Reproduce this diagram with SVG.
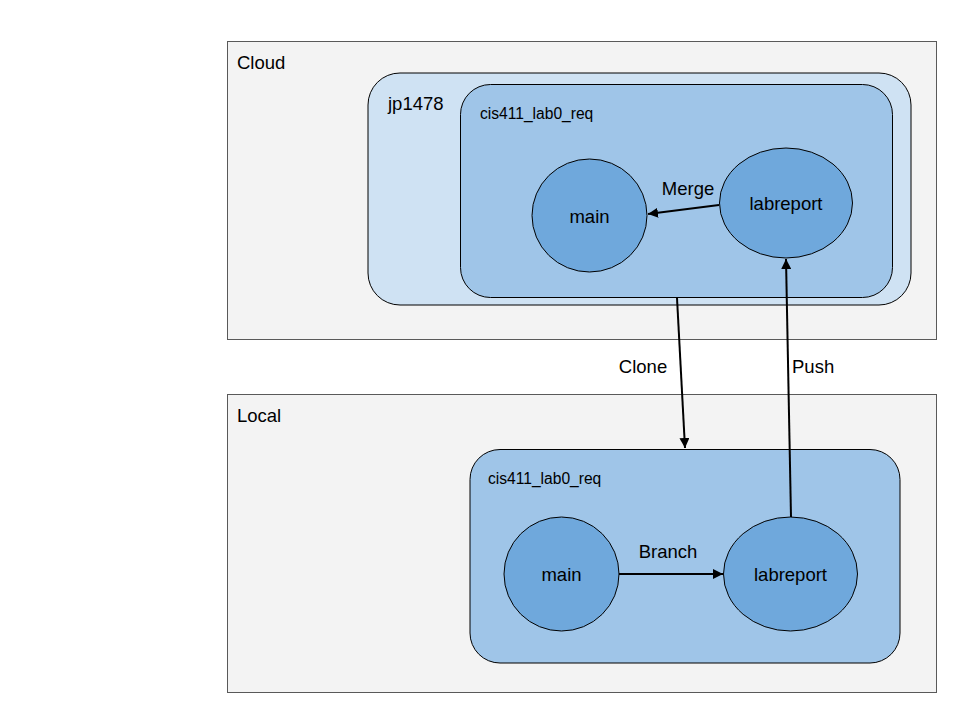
<svg xmlns="http://www.w3.org/2000/svg" width="960" height="720" viewBox="0 0 960 720">
<defs>
<style>
.area{fill:#f3f3f3;stroke:#595959;stroke-width:1}
.org{fill:#cfe2f3;stroke:#000;stroke-width:1}
.repo{fill:#9fc5e8;stroke:#000;stroke-width:1}
.br{fill:#6fa8dc;stroke:#000;stroke-width:1}
text{font-family:"Liberation Sans",Arial,sans-serif;fill:#000}
.big{font-size:18.5px}
.small{font-size:15.6px}
.mid{text-anchor:middle}
.edge{stroke:#000;stroke-width:2;fill:none}
</style>
<marker id="arr" viewBox="0 0 10 10" refX="10" refY="5" markerWidth="5" markerHeight="5" orient="auto" markerUnits="strokeWidth">
<path d="M0,0 L10,5 L0,10 z" fill="#000"/>
</marker>
</defs>
<rect width="960" height="720" fill="#fff"/>
<g id="cloud">
<rect class="area" x="227.5" y="41.5" width="709" height="298"/>
<text class="big" x="237" y="69">Cloud</text>
</g>
<g id="local">
<rect class="area" x="227.5" y="394.5" width="709" height="298"/>
<text class="big" x="237" y="422">Local</text>
</g>
<g id="jp1478">
<rect class="org" x="368" y="73" width="543" height="232" rx="32"/>
<text class="big" x="388" y="110">jp1478</text>
</g>
<g id="cloud-repo">
<rect class="repo" x="460.5" y="84.5" width="432" height="213" rx="30"/>
<text class="small" x="480" y="119">cis411_lab0_req</text>
</g>
<g id="cloud-main">
<ellipse class="br" cx="589.5" cy="215.5" rx="57.5" ry="56.5"/>
<text class="big mid" x="589.5" y="222.5">main</text>
</g>
<g id="cloud-labreport">
<ellipse class="br" cx="786" cy="203" rx="66.5" ry="55"/>
<text class="big mid" x="786" y="210">labreport</text>
</g>
<g id="local-repo">
<rect class="repo" x="470" y="449.5" width="430" height="213.5" rx="30"/>
<text class="small" x="488" y="484">cis411_lab0_req</text>
</g>
<g id="local-main">
<ellipse class="br" cx="561.5" cy="574" rx="57.5" ry="57"/>
<text class="big mid" x="561.5" y="581">main</text>
</g>
<g id="local-labreport">
<ellipse class="br" cx="790.5" cy="574" rx="67" ry="57"/>
<text class="big mid" x="790.5" y="581">labreport</text>
</g>
<g id="connectors">
<line class="edge" x1="719" y1="205" x2="648" y2="214" marker-end="url(#arr)"/>
<text class="big mid" x="688" y="195">Merge</text>
<line class="edge" x1="677" y1="298" x2="685" y2="448" marker-end="url(#arr)"/>
<text class="big mid" x="643" y="373">Clone</text>
<line class="edge" x1="791" y1="517" x2="786" y2="259" marker-end="url(#arr)"/>
<text class="big" x="792" y="373">Push</text>
<line class="edge" x1="619" y1="574" x2="723" y2="574" marker-end="url(#arr)"/>
<text class="big mid" x="668" y="558">Branch</text>
</g>
</svg>
